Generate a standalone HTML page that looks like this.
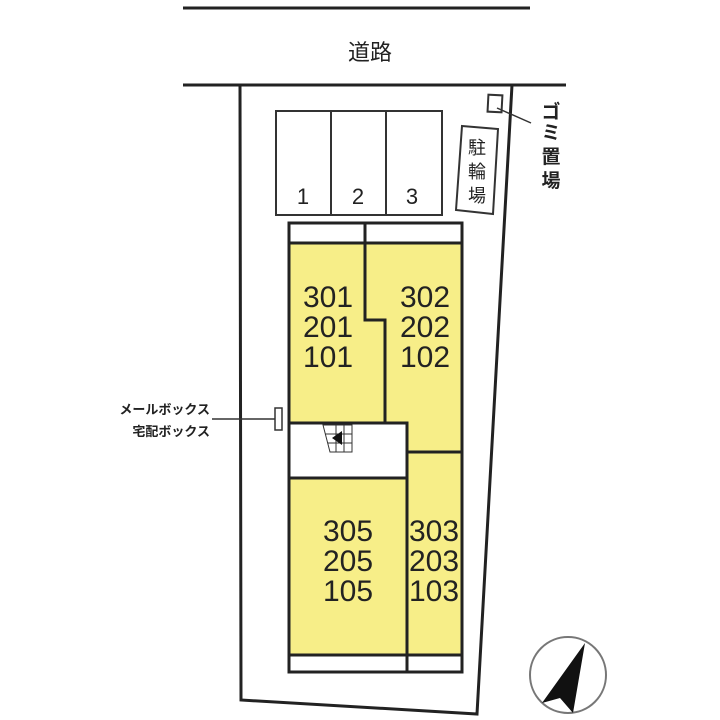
<!DOCTYPE html>
<html><head><meta charset="utf-8"><style>
html,body{margin:0;padding:0;background:#fff;width:720px;height:720px;overflow:hidden}
text{font-family:"Liberation Sans","Noto Sans CJK JP",sans-serif;fill:#222}
</style></head><body>
<svg width="720" height="720" viewBox="0 0 720 720" xmlns="http://www.w3.org/2000/svg">
<g stroke="#222" stroke-width="3" fill="none">
<line x1="183" y1="8" x2="530" y2="8"/>
<line x1="183" y1="85" x2="566" y2="85"/>
<polyline points="240,85 241,700 477,714 512,85"/>
</g>
<text x="370" y="60" font-size="22" text-anchor="middle">道路</text>
<!-- parking -->
<g stroke="#333" stroke-width="2" fill="#fff">
<rect x="276" y="111" width="166" height="104"/>
<line x1="331" y1="111" x2="331" y2="215"/>
<line x1="386" y1="111" x2="386" y2="215"/>
</g>
<g font-size="22" text-anchor="middle">
<text x="303" y="204">1</text><text x="358" y="204">2</text><text x="412" y="204">3</text>
</g>
<!-- bicycle -->
<polygon points="462,126 498,129 493,214 456,210" fill="#fff" stroke="#333" stroke-width="2"/>
<g font-size="18" text-anchor="middle"><text x="477" y="154">駐</text><text x="477" y="178">輪</text><text x="477" y="202">場</text></g>
<!-- gomi -->
<rect x="488" y="95" width="14" height="17" fill="#fff" stroke="#333" stroke-width="2" transform="rotate(3 495 103)"/>
<line x1="497" y1="108" x2="531" y2="123" stroke="#333" stroke-width="1.5"/>
<g font-size="19" text-anchor="middle" font-weight="bold"><text x="551" y="118">ゴ</text><text x="551" y="139">ミ</text><text x="551" y="163">置</text><text x="551" y="187">場</text></g>
<!-- building -->
<g stroke="#222" stroke-width="3">
<rect x="289" y="223" width="173" height="449" fill="#fff"/>
<polygon points="289,243 365,243 365,320 385,320 385,423 289,423" fill="#f7ee88"/>
<polygon points="365,243 462,243 462,452 385,452 385,320 365,320" fill="#f7ee88"/>
<rect x="289" y="423" width="118" height="55" fill="#fff"/>
<rect x="289" y="478" width="118" height="177" fill="#f7ee88"/>
<rect x="407" y="452" width="55" height="203" fill="#f7ee88"/>
<line x1="365" y1="223" x2="365" y2="243"/>
<line x1="407" y1="655" x2="407" y2="672"/>
</g>
<!-- stairs -->
<g stroke="#333" stroke-width="1" fill="#fff">
<polygon points="323,425 352,425 352,452 330,452"/>
<line x1="336" y1="425" x2="336" y2="452"/><line x1="344" y1="425" x2="344" y2="452"/>
<line x1="325" y1="434" x2="352" y2="434"/><line x1="328" y1="443" x2="352" y2="443"/>
</g>
<polygon points="332,438 342,431 342,445" fill="#111"/>
<g font-size="30" text-anchor="middle">
<text x="328" y="307">301</text><text x="328" y="337">201</text><text x="328" y="367">101</text>
<text x="425" y="307">302</text><text x="425" y="337">202</text><text x="425" y="367">102</text>
<text x="348" y="541">305</text><text x="348" y="571">205</text><text x="348" y="601">105</text>
<text x="434" y="541">303</text><text x="434" y="571">203</text><text x="434" y="601">103</text>
</g>
<!-- mailbox -->
<line x1="212" y1="419" x2="275" y2="419" stroke="#333" stroke-width="1.5"/>
<rect x="275" y="408" width="7" height="22" fill="#fff" stroke="#333" stroke-width="1.5"/>
<g font-size="13" text-anchor="end" font-weight="bold"><text x="210" y="414">メールボックス</text><text x="210" y="436">宅配ボックス</text></g>
<!-- compass -->
<circle cx="568" cy="675" r="38" fill="#fff" stroke="#777" stroke-width="2"/>
<polygon points="585,643 542,703 560,698 573,713" fill="#111"/>
</svg>
</body></html>
